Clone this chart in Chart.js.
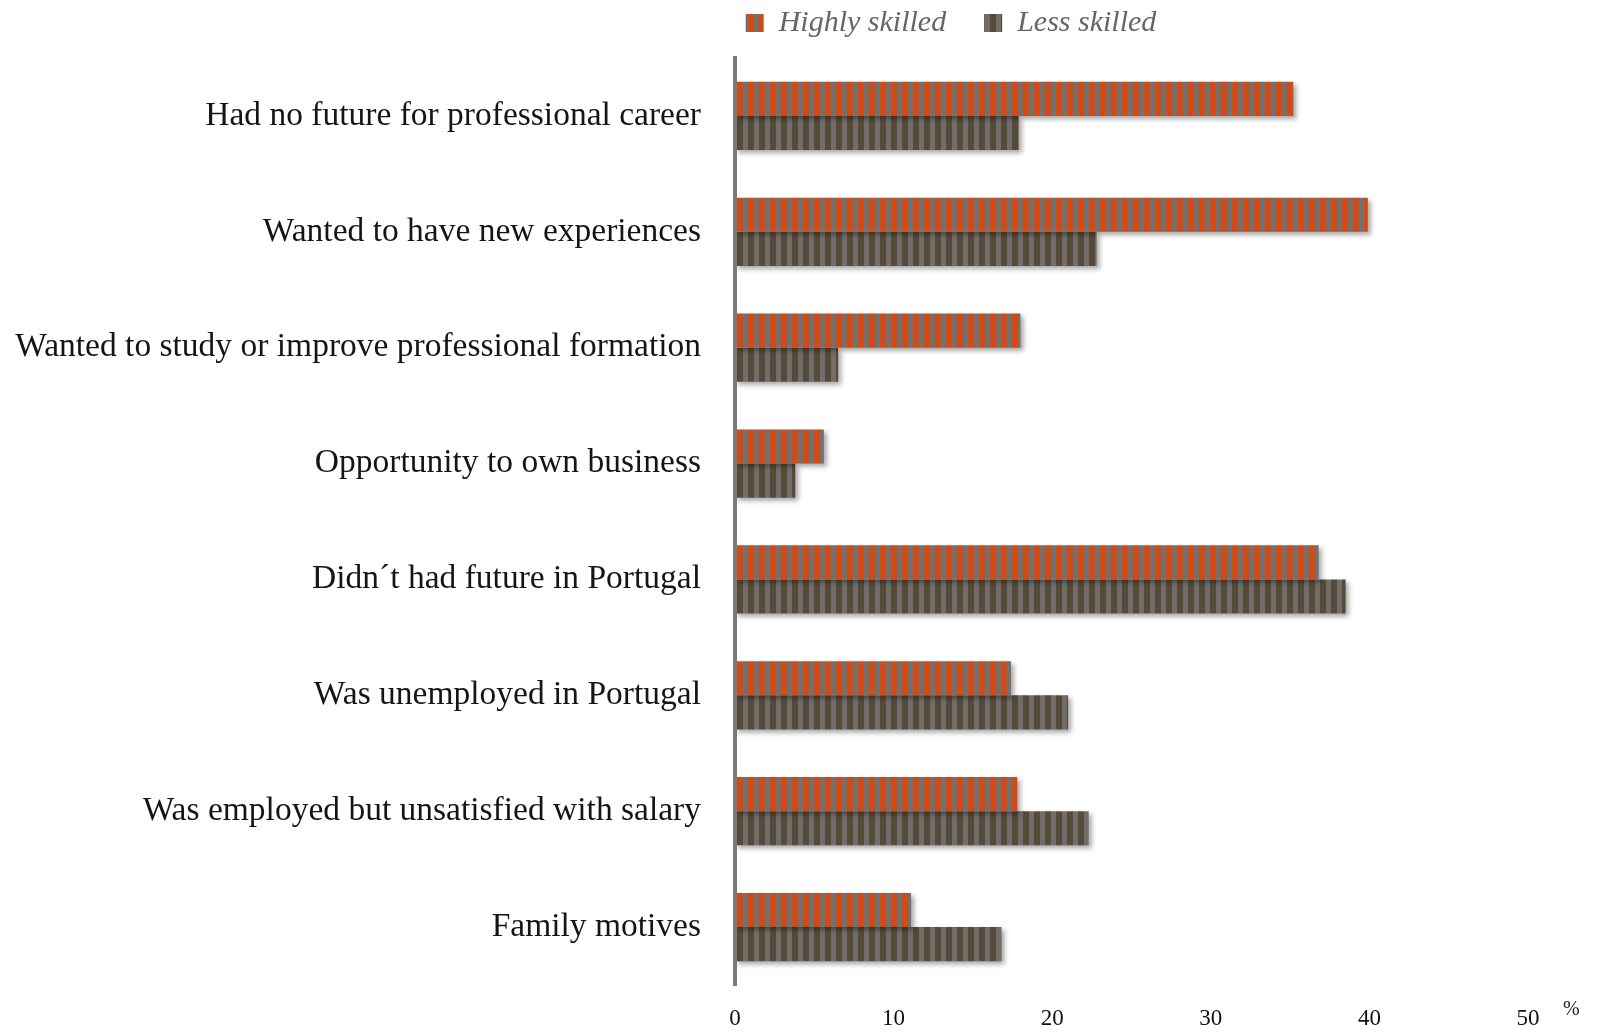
<!DOCTYPE html>
<html lang="en">
<head>
    <meta charset="UTF-8">
    <title>Reasons for emigrating</title>
    <script src="https://cdn.jsdelivr.net/npm/chart.js"></script>
    <style>
        body {
            margin: 0;
            background-color: #ffffff;
        }
    </style>
</head>
<body>
    <canvas id="reasonsChart" width="1600" height="1031"></canvas>

    <script>
        // Data (%)
        const categories = [
            'Had no future for professional career',
            'Wanted to have new experiences',
            'Wanted to study or improve professional formation',
            'Opportunity to own business',
            'Didn´t had future in Portugal',
            'Was unemployed in Portugal',
            'Was employed but unsatisfied with salary',
            'Family motives'
        ];
        const seriesNames = ['Highly skilled', 'Less skilled'];
        const highlySkilled = [35.2, 39.9, 18.0, 5.6, 36.8, 17.4, 17.8, 11.1];
        const lessSkilled = [17.9, 22.8, 6.5, 3.8, 38.5, 21.0, 22.3, 16.8];
        const xTicks = [0, 10, 20, 30, 40, 50];

        const serif = "'Liberation Serif', 'Times New Roman', serif";

        // vertical striped fill
        const makeStripes = (main, alt) => {
            const c = document.createElement('canvas');
            c.width = 11;
            c.height = 4;
            const g = c.getContext('2d');
            g.fillStyle = alt;
            g.fillRect(0, 0, 11, 4);
            g.fillStyle = main;
            g.fillRect(0, 0, 6, 4);
            return g.createPattern(c, 'repeat');
        };

        const hsFill = makeStripes('#d24a16', '#73706e');
        const lsFill = makeStripes('#564a38', '#716d6b');

        // soft drop shadow under bars
        const barShadow = {
            id: 'barShadow',
            beforeDatasetsDraw(chart) {
                const c = chart.ctx;
                c.save();
                c.shadowColor = 'rgba(0,0,0,0.35)';
                c.shadowBlur = 5;
                c.shadowOffsetX = 3;
                c.shadowOffsetY = 3;
            },
            afterDatasetsDraw(chart) {
                chart.ctx.restore();
            }
        };

        // move legend to where it sits in the reference, add the % unit
        const extras = {
            id: 'extras',
            afterLayout(chart) {
                const lg = chart.legend;
                lg.left += 187;
                lg.right += 187;
                lg.top -= 10;
            },
            afterDraw(chart) {
                const c = chart.ctx;
                c.save();
                c.font = '20px ' + serif;
                c.fillStyle = '#222';
                c.textAlign = 'left';
                c.textBaseline = 'middle';
                c.fillText('%', 1563, 1010);
                c.restore();
            }
        };

        new Chart(document.getElementById('reasonsChart'), {
            type: 'bar',
            data: {
                labels: categories,
                datasets: [
                    {
                        label: seriesNames[0],
                        data: highlySkilled,
                        backgroundColor: hsFill,
                        borderWidth: 0
                    },
                    {
                        label: seriesNames[1],
                        data: lessSkilled,
                        backgroundColor: lsFill,
                        borderWidth: 0
                    }
                ]
            },
            options: {
                indexAxis: 'y',
                responsive: false,
                animation: false,
                categoryPercentage: 0.59,
                barPercentage: 1.0,
                layout: {
                    padding: { top: -20, right: 72, bottom: 0, left: 0 }
                },
                plugins: {
                    tooltip: { enabled: false },
                    legend: {
                        position: 'top',
                        labels: {
                            boxWidth: 18,
                            boxHeight: 18,
                            padding: 38,
                            color: '#686464',
                            font: { family: serif, size: 30, style: 'italic' }
                        }
                    }
                },
                scales: {
                    x: {
                        min: 0,
                        max: 50,
                        afterBuildTicks: (scale) => {
                            scale.ticks = xTicks.map(v => ({ value: v }));
                        },
                        afterFit: (scale) => { scale.height = 46; },
                        grid: { display: false, drawTicks: false },
                        border: { display: false },
                        ticks: {
                            color: '#111',
                            padding: 20,
                            font: { family: serif, size: 23 }
                        }
                    },
                    y: {
                        afterFit: (scale) => {
                            scale.width = 735;
                            scale.paddingTop = 0;
                            scale.paddingBottom = 0;
                        },
                        grid: { display: false, drawTicks: false },
                        border: { display: true, color: '#7a7878', width: 4, z: 1 },
                        ticks: {
                            color: '#151515',
                            padding: 34,
                            font: { family: serif, size: 33.5 }
                        }
                    }
                }
            },
            plugins: [barShadow, extras]
        });
    </script>
</body>
</html>
